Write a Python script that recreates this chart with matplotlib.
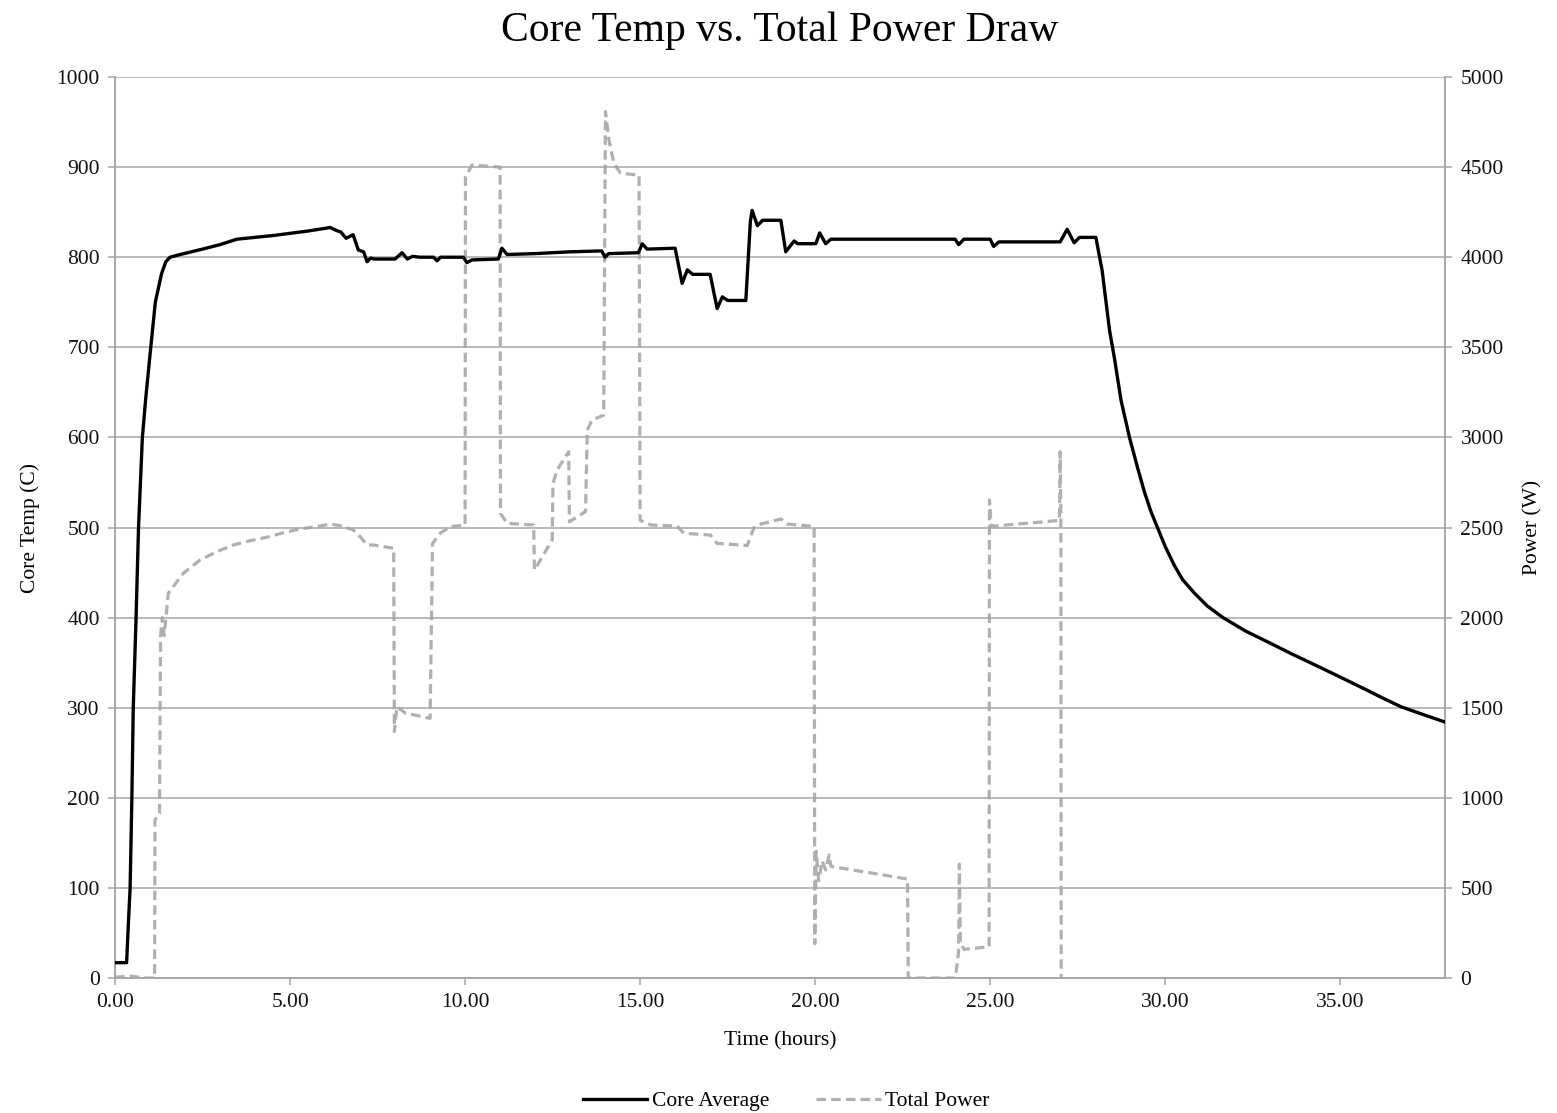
import numpy as np
import matplotlib.pyplot as plt

# data
core_t = [0, 0.33, 0.38, 0.43, 0.48, 0.52, 0.6, 0.67, 0.78, 0.88, 1.02, 1.15, 1.33, 1.45, 1.57,
          1.86, 2.5, 3.0, 3.48, 4.5, 5.5, 6.15, 6.3, 6.45, 6.6, 6.8, 6.95, 7.1, 7.2, 7.3,
          7.4, 8.0, 8.2, 8.35, 8.5, 8.7, 9.1, 9.2, 9.3, 9.95, 10.05, 10.2, 10.95, 11.05, 11.2,
          12.0, 13.0, 13.9, 14.0, 14.1, 14.95, 15.06, 15.2, 16.0, 16.2, 16.35, 16.5, 17.0, 17.2, 17.35,
          17.5, 18.02, 18.15, 18.2, 18.35, 18.5, 19.02, 19.16, 19.4, 19.5, 20.02, 20.13, 20.3, 20.45, 24.0,
          24.1, 24.25, 25.0, 25.1, 25.25, 27.0, 27.2, 27.4, 27.55, 28.02, 28.2, 28.41, 28.55, 28.74, 28.98,
          29.2, 29.41, 29.6, 29.79, 30.0, 30.26, 30.5, 30.84, 31.2, 31.65, 32.3, 32.93, 33.6, 34.36, 35.0,
          35.79, 36.2, 36.74, 37.4, 38.0]
core_temp = [17, 17, 60, 100, 200, 300, 400, 500, 600, 645, 700, 750, 782, 795, 800,
             803, 809, 814, 820, 824, 829, 833, 830, 828, 821, 825, 808, 806, 795, 799,
             798, 798, 805, 798, 801, 800, 800, 796, 800, 800, 794, 797, 798, 810, 803,
             804, 806, 807, 800, 804, 805, 815, 809, 810, 771, 786, 781, 781, 743, 756,
             752, 752, 840, 852, 835, 841, 841, 806, 818, 815, 815, 827, 815, 820, 820,
             814, 820, 820, 812, 817, 817, 831, 816, 822, 822, 785, 719, 688, 641, 600,
             568, 539, 517, 499, 479, 458, 442, 427, 413, 400, 385, 373, 360, 346, 334,
             319, 311, 301, 292, 284]

power_t = [0, 0.5, 0.8, 1.13, 1.14, 1.27, 1.3, 1.35, 1.4, 1.45, 1.52, 1.95, 2.43, 2.91, 3.38,
           3.86, 4.34, 4.81, 5.29, 5.77, 6.15, 6.44, 6.81, 7.0, 7.2, 7.39, 7.96, 7.98, 8.05, 8.3,
           9.0, 9.07, 9.3, 9.58, 10.0, 10.01, 10.2, 11.0, 11.01, 11.2, 11.96, 11.98, 12.49, 12.51, 12.63,
           12.96, 12.98, 13.44, 13.49, 13.63, 13.96, 14.01, 14.11, 14.25, 14.44, 14.97, 15.0, 15.3, 16.06, 16.25,
           17.01, 17.2, 18.06, 18.25, 18.44, 19.02, 19.21, 19.97, 19.99, 20.03, 20.1, 20.2, 20.3, 20.4, 20.45,
           20.73, 21.69, 22.64, 22.66, 24.0, 24.05, 24.1, 24.12, 24.15, 24.26, 24.97, 24.98, 25.03, 25.16, 26.45,
           26.98, 27.0, 27.02, 27.03]
power_w = [5, 10, 0, 0, 877, 914, 1900, 2000, 1900, 1990, 2135, 2246, 2320, 2366, 2403,
           2427, 2446, 2471, 2492, 2505, 2519, 2510, 2486, 2449, 2403, 2403, 2385, 1367, 1505, 1470,
           1441, 2412, 2470, 2505, 2514, 4447, 4512, 4500, 2579, 2523, 2514, 2264, 2431, 2745, 2819,
           2921, 2532, 2588, 3041, 3097, 3124, 4808, 4650, 4521, 4466, 4456, 2541, 2514, 2508, 2468,
           2458, 2412, 2400, 2499, 2519, 2547, 2519, 2506, 190, 703, 540, 650, 600, 683, 620,
           610, 580, 549, 0, 0, 67, 149, 631, 190, 159, 173, 2653, 2509, 2509, 2530,
           2540, 2920, 2540, 0]

x_ticks = [0, 5, 10, 15, 20, 25, 30, 35]

plt.rcParams['font.family'] = ['Liberation Serif', 'DejaVu Serif']
grid_col = '#a6a6a6'

fig = plt.figure(figsize=(15.57, 11.13), dpi=100)
ax = fig.add_axes([0.0739, 0.1213, 0.8543, 0.8095])
ax2 = ax.twinx()

ax.plot(core_t, core_temp, color='black', lw=2.4, label='Core Average', zorder=3)
ax2.plot(power_t, power_w, color='#b3afaf', lw=2.3, dashes=(3, 1.6), label='Total Power')

ax.set_zorder(ax2.get_zorder() + 1)
ax.patch.set_visible(False)

ax.set_xlim(0, 38)
ax.set_ylim(0, 1000)
ax2.set_ylim(0, 5000)
ax.set_xticks(x_ticks)
ax.set_xticklabels(['%.2f' % v for v in x_ticks])
ax.set_yticks(np.arange(0, 1001, 100))
ax2.set_yticks(np.arange(0, 5001, 500))

ax.yaxis.grid(True, color=grid_col, lw=1.1)
ax.set_axisbelow(True)

for a in (ax, ax2):
    for s in a.spines.values():
        s.set_color(grid_col)
        s.set_linewidth(1.1)
    a.spines['top'].set_visible(False)
    a.tick_params(direction='out', length=5, width=1.1, color=grid_col,
                  labelsize=15.5, labelcolor='#111111', pad=6)

ax.set_title('Core Temp vs. Total Power Draw', fontsize=30, pad=26)
ax.set_xlabel('Time (hours)', fontsize=15.5, labelpad=14)
ax.set_ylabel('Core Temp (C)', fontsize=15.5, labelpad=12)
ax2.set_ylabel('Power (W)', fontsize=15.5, labelpad=14)

h1, l1 = ax.get_legend_handles_labels()
h2, l2 = ax2.get_legend_handles_labels()
fig.legend(h1 + h2, l1 + l2, loc='lower center', bbox_to_anchor=(0.505, -0.016), ncol=2,
           frameon=False, fontsize=15.5, handlelength=3.0, handletextpad=0.2, columnspacing=2.2)

plt.savefig('out.png', dpi=100)
